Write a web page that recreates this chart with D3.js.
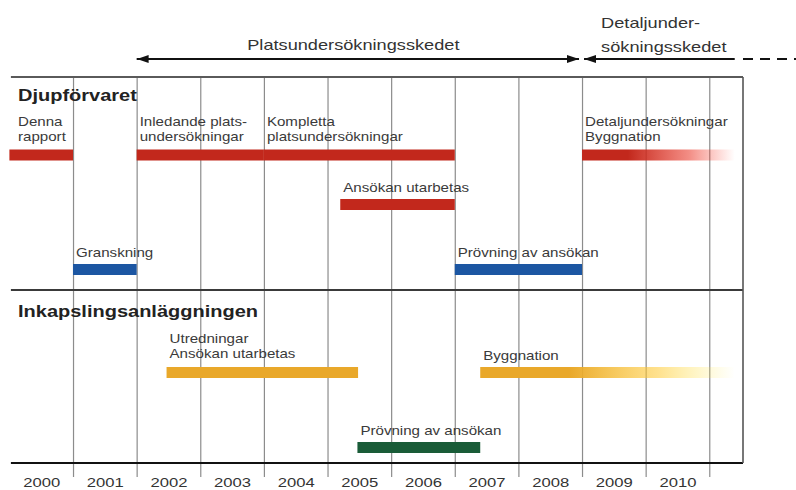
<!DOCTYPE html>
<html><head><meta charset="utf-8">
<script src="https://cdn.jsdelivr.net/npm/d3@7"></script>
<style>
html,body{margin:0;padding:0;background:#fff;}
svg{display:block;font-family:"Liberation Sans",Arial,Helvetica,sans-serif;}
</style></head>
<body><svg id="c" width="796" height="490"></svg>
<script>
// ---- data ----
const yearLabels = ["2000","2001","2002","2003","2004","2005","2006","2007","2008","2009","2010"];
const sectionNames = ["Djupförvaret", "Inkapslingsanläggningen"];
const rowNames = ["D1","D2","D3","I1","I2"];

const phaseLabels = [["Platsundersökningsskedet"], ["Detaljunder-","sökningsskedet"]];
const phaseStarts = [2002, 2009];
const phaseEnds   = [2009, 2011.4];

const taskLabels = [
  ["Denna","rapport"],
  ["Inledande plats-","undersökningar"],
  ["Kompletta","platsundersökningar"],
  ["Detaljundersökningar","Byggnation"],
  ["Ansökan utarbetas"],
  ["Granskning"],
  ["Prövning av ansökan"],
  ["Utredningar","Ansökan utarbetas"],
  ["Byggnation"],
  ["Prövning av ansökan"]
];
const taskStarts = [2000, 2002, 2004, 2009, 2005.2, 2001, 2007, 2002.47, 2007.4, 2005.47];
const taskEnds   = [2001, 2004, 2007, 2011.4, 2007, 2002, 2009, 2005.48, 2011.4, 2007.4];
const taskRows   = ["D1","D1","D1","D1","D2","D3","D3","I1","I1","I2"];
const taskKinds  = ["red","red","red","red","red","blue","blue","orange","orange","green"];
const taskFades  = [false,false,false,true,false,false,false,false,true,false];

// ---- layout ----
const svg = d3.select("#c");
const W = 796, H = 490;
const x = d3.scaleLinear().domain([2000, 2011.53]).range([9.4, 743]);
const yTop = 77, yMid = 290, yBot = 463, yGridEnd = 477;
const y = d3.scaleOrdinal().domain(rowNames).range([155, 204.5, 269.5, 372.5, 447.5]);
const barH = 11;
const color = d3.scaleOrdinal().domain(["red","blue","orange","green"])
  .range(["#c2281c","#1c56a2","#e9a82a","#1a5c38"]);
const SX = 1.26;

function txt(g, px, py, s, opt = {}) {
  return g.append("text")
    .attr("transform", `translate(${px},${py}) scale(${opt.sx || SX},1)`)
    .attr("text-anchor", opt.anchor || "start")
    .attr("font-size", opt.size || 12)
    .attr("font-weight", opt.weight || "normal")
    .attr("fill", opt.fill || "#3a3a3a")
    .text(s);
}

// gradients for fading bars
const defs = svg.append("defs");
["red","orange"].forEach(k => {
  const c = d3.color(color(k));
  const gr = defs.append("linearGradient").attr("id", "fade-" + k);
  gr.append("stop").attr("offset", "0%").attr("stop-color", c.formatHex()).attr("stop-opacity", 1);
  gr.append("stop").attr("offset", k === "red" ? "30%" : "35%").attr("stop-color", c.formatHex()).attr("stop-opacity", 1);
  gr.append("stop").attr("offset", "70%").attr("stop-color", c.brighter(0.5).formatHex()).attr("stop-opacity", 0.55);
  gr.append("stop").attr("offset", "100%").attr("stop-color", c.brighter(1).formatHex()).attr("stop-opacity", 0);
});
const marker = (id, dir) => {
  defs.append("marker").attr("id", id).attr("viewBox", "0 0 12 8")
    .attr("refX", dir > 0 ? 12 : 0).attr("refY", 4)
    .attr("markerWidth", 12).attr("markerHeight", 8).attr("markerUnits", "userSpaceOnUse")
    .attr("orient", "0")
    .append("path").attr("d", dir > 0 ? "M0,0 L12,4 L0,8 Z" : "M12,0 L0,4 L12,8 Z").attr("fill", "#111");
};
marker("arrR", 1); marker("arrL", -1);

// gridlines via axis
const gridAxis = d3.axisBottom(x)
  .tickValues(yearLabels.map(d => +d + 1))
  .tickSize(-(yGridEnd - yTop)).tickFormat("");
const gg = svg.append("g").attr("transform", `translate(0,${yGridEnd})`).call(gridAxis);
gg.select(".domain").remove();
gg.selectAll(".tick line").attr("stroke", "#8c8c8c").attr("stroke-width", 1.2);

// frame lines
svg.append("line").attr("x1", x(2000)+1.5).attr("x2", x.range()[1]).attr("y1", yTop).attr("y2", yTop)
  .attr("stroke", "#5a5a5a").attr("stroke-width", 2.2);
svg.append("line").attr("x1", x(2000)+1.5).attr("x2", x.range()[1]).attr("y1", yMid).attr("y2", yMid)
  .attr("stroke", "#3a3a3a").attr("stroke-width", 2.2);
svg.append("line").attr("x1", x(2000)+1.5).attr("x2", x.range()[1]).attr("y1", yBot).attr("y2", yBot)
  .attr("stroke", "#111").attr("stroke-width", 2);
svg.append("line").attr("x1", x.range()[1]).attr("x2", x.range()[1]).attr("y1", yTop).attr("y2", yBot)
  .attr("stroke", "#555").attr("stroke-width", 1.6);

// year labels via axis
const yearAxis = d3.axisBottom(x).tickValues(yearLabels.map(d => +d + 0.5))
  .tickFormat(d => String(Math.floor(d))).tickSize(0);
const ya = svg.append("g").attr("transform", `translate(0,${yBot})`).call(yearAxis);
ya.select(".domain").remove();
ya.selectAll(".tick text").attr("y", 24).attr("dy", null)
  .attr("font-size", 13).attr("font-family", "Liberation Sans, Arial, sans-serif")
  .attr("fill", "#333").attr("transform", "scale(1.28,1)");

// phase arrows
const yArr = 59;
svg.append("line").attr("x1", x(phaseStarts[0])).attr("x2", x(phaseEnds[0]) - 3)
  .attr("y1", yArr).attr("y2", yArr).attr("stroke", "#111").attr("stroke-width", 2)
  .attr("marker-start", "url(#arrL)").attr("marker-end", "url(#arrR)");
svg.append("line").attr("x1", x(phaseStarts[1]) + 2).attr("x2", x(phaseEnds[1]))
  .attr("y1", yArr).attr("y2", yArr).attr("stroke", "#111").attr("stroke-width", 2)
  .attr("marker-start", "url(#arrL)");
svg.append("line").attr("x1", x.range()[1]).attr("x2", W)
  .attr("y1", yArr).attr("y2", yArr).attr("stroke", "#111").attr("stroke-width", 2)
  .attr("stroke-dasharray", "10,7");

txt(svg, (x(phaseStarts[0]) + x(phaseEnds[0])) / 2 - 6, 50, phaseLabels[0][0],
  {anchor: "middle", size: 14, sx: 1.3, fill: "#333"});
phaseLabels[1].forEach((s, i) =>
  txt(svg, x(phaseStarts[1] + 0.3), 28 + i * 24, s, {size: 14, sx: 1.3, fill: "#333"}));

// section headers
txt(svg, 18, 101, sectionNames[0], {size: 16, weight: "bold", sx: 1.25, fill: "#222"});
txt(svg, 18, 317, sectionNames[1], {size: 16, weight: "bold", sx: 1.25, fill: "#222"});

// bars
taskLabels.forEach((lab, i) => {
  const x0 = x(taskStarts[i]), x1 = x(taskEnds[i]);
  const top = y(taskRows[i]) - barH / 2;
  svg.append("rect").attr("x", x0).attr("y", top).attr("width", x1 - x0).attr("height", barH)
    .attr("fill", taskFades[i] ? `url(#fade-${taskKinds[i]})` : color(taskKinds[i]));
  const lx = Math.max(x0 + 3, 18);
  const n = lab.length;
  lab.forEach((s, j) => {
    const gap = n > 1 ? 9 : 7;
    txt(svg, lx, top - gap - (n - 1 - j) * 15, s, {size: 12, sx: 1.26, fill: "#3a3a3a"});
  });
});
</script></body></html>
